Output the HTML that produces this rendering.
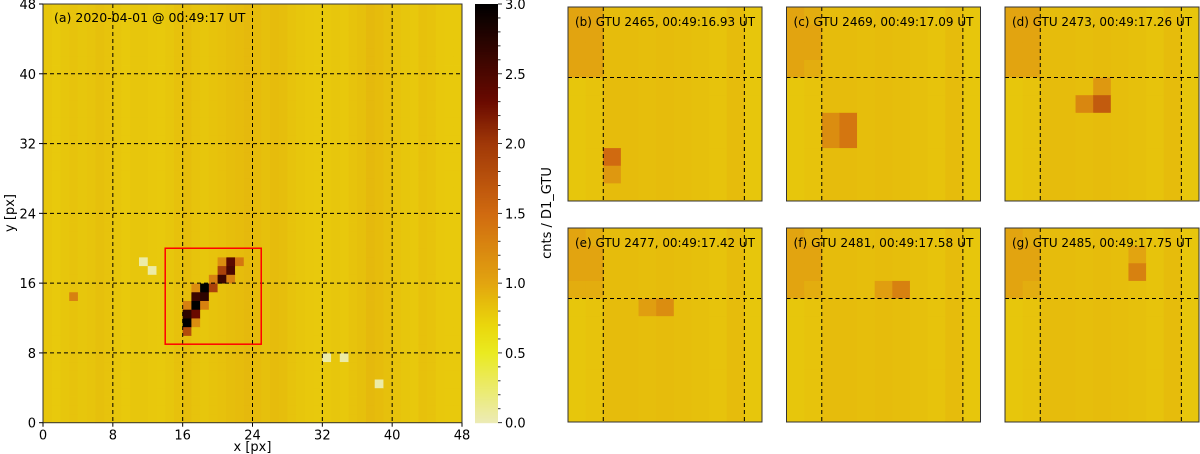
<!DOCTYPE html>
<html><head><meta charset="utf-8">
<style>
body{margin:0;background:#fff;}
svg{display:block;font-family:"DejaVu Sans","Liberation Sans",sans-serif;}
</style></head>
<body>
<svg id="fig" width="1200" height="454" viewBox="0 0 1200 454"></svg>
<script>
// ---- data ----
const colBase = [0.8,0.78,0.8,0.82,0.8,0.81,0.84,0.82,0.8,0.78,0.8,0.8,0.79,0.78,0.8,0.83,0.85,0.82,0.8,0.82,0.83,0.85,0.86,0.88,0.86,0.84,0.86,0.85,0.82,0.8,0.79,0.78,0.79,0.8,0.79,0.82,0.84,0.88,0.86,0.84,0.82,0.8,0.79,0.83,0.82,0.79,0.78,0.78];
// main overrides: [col,row,value]
const trackCells = [[22,18,1.4],[20,18,1.2],[21,18,2.4],[21,17,2.5],[20,17,1.9],[20,16,2.6],[21,16,1.3],[19,16,1.3],[18,15,3.0],[19,15,1.9],[17,15,1.2],[17,14,2.6],[18,14,2.7],[17,13,3.0],[18,13,1.3],[16,13,1.3],[16,12,2.7],[17,12,2.3],[16,11,3.0],[17,11,1.2],[16,10,1.8],[11,18,0.05],[12,17,0.05],[32,7,0.05],[34,7,0.05],[38,4,0.05],[3,14,1.3]];
const cbTicks = [0.0,0.5,1.0,1.5,2.0,2.5,3.0];
const axTicks = [0,8,16,24,32,40,48];
// small panels
const panelTitles = ["(b) GTU 2465, 00:49:16.93 UT","(c) GTU 2469, 00:49:17.09 UT","(d) GTU 2473, 00:49:17.26 UT","(e) GTU 2477, 00:49:17.42 UT","(f) GTU 2481, 00:49:17.58 UT","(g) GTU 2485, 00:49:17.75 UT"];
const panelBase = [0.8,0.82,0.86,0.86,0.85,0.86,0.85,0.84,0.82,0.86,0.8];
// [col,rowFromTop,value] in 11x11 window
const panelCells = [
 [[0,0,1.0],[1,0,1.0],[0,1,1.0],[1,1,1.0],[0,2,1.0],[1,2,1.0],[0,3,1.0],[1,3,1.0],[2,8,1.5],[2,9,1.1]],
 [[0,0,1.0],[1,0,0.95],[0,1,1.0],[1,1,1.0],[0,2,1.0],[1,2,1.0],[0,3,1.0],[1,3,0.95],[2,6,1.2],[3,6,1.4],[2,7,1.2],[3,7,1.4]],
 [[0,0,1.0],[1,0,1.0],[0,1,1.0],[1,1,1.0],[0,2,1.0],[1,2,1.0],[0,3,1.0],[1,3,1.0],[4,5,1.25],[5,5,1.65],[5,4,1.1]],
 [[0,0,1.0],[1,0,0.95],[0,1,1.0],[1,1,1.0],[0,2,1.0],[1,2,1.0],[0,3,0.95],[1,3,0.95],[4,4,1.05],[5,4,1.2]],
 [[0,0,1.0],[1,0,0.95],[0,1,1.0],[1,1,1.0],[0,2,1.0],[1,2,1.0],[0,3,1.0],[1,3,0.95],[5,3,1.05],[6,3,1.3]],
 [[0,0,1.0],[1,0,0.95],[0,1,1.0],[1,1,1.0],[0,2,1.0],[1,2,1.0],[0,3,1.0],[1,3,0.95],[7,2,1.3],[7,1,1.0]]
];
// ---- colormap ----
const stops=[[0,[236,235,181]],[0.5,[234,234,32]],[0.7,[234,214,12]],[0.85,[230,190,12]],[1.0,[226,164,16]],[1.5,[208,106,16]],[2.0,[160,56,8]],[2.3,[106,10,0]],[2.6,[60,6,0]],[3.0,[0,0,0]]];
function cmap(v){v=Math.max(0,Math.min(3,v));for(let i=1;i<stops.length;i++){if(v<=stops[i][0]){const a=stops[i-1],b=stops[i],t=(v-a[0])/(b[0]-a[0]);const c=a[1].map((x,k)=>Math.round(x+(b[1][k]-x)*t));return `rgb(${c})`;}}return 'rgb(0,0,0)';}
const NS='http://www.w3.org/2000/svg';const svg=document.getElementById('fig');
function el(t,a,p){const e=document.createElementNS(NS,t);for(const k in a)e.setAttribute(k,a[k]);(p||svg).appendChild(e);return e;}
// ---- main axes ----
const MX0=43,MX1=462,MY0=4,MY1=422.7;
const sx=v=>MX0+(MX1-MX0)*v/48, sy=v=>MY1-(MY1-MY0)*v/48;
const gMain=el('g',{});


const ov={};trackCells.forEach(c=>ov[c[0]+','+c[1]]=c[2]);
for(let r=0;r<48;r++)for(let c=0;c<48;c++){
  const v=ov[c+','+r]!==undefined?ov[c+','+r]:colBase[c];
  const x0=sx(c),x1=sx(c+1),y0=sy(r+1),y1=sy(r);
  const e=el('rect',{x:x0,y:y0,width:x1-x0+0.4,height:y1-y0+0.4,fill:cmap(v)},gMain);
  
  
}
axTicks.slice(1,-1).forEach(t=>{
  el('line',{x1:sx(t),x2:sx(t),y1:MY0,y2:MY1,stroke:'#000','stroke-width':1,'stroke-dasharray':'4,3'});
  el('line',{y1:sy(t),y2:sy(t),x1:MX0,x2:MX1,stroke:'#000','stroke-width':1,'stroke-dasharray':'4,3'});
});
const box=el('rect',{x:sx(14),y:sy(20),width:sx(25)-sx(14),height:sy(9)-sy(20),fill:'none',stroke:'#f00','stroke-width':1.5});


el('rect',{x:MX0,y:MY0,width:MX1-MX0,height:MY1-MY0,fill:'none',stroke:'#333','stroke-width':1});
axTicks.forEach(t=>{
  el('line',{x1:sx(t),x2:sx(t),y1:MY1,y2:MY1+4,stroke:'#000'});
  const tx=el('text',{x:sx(t),y:MY1+17,'text-anchor':'middle','font-size':13});tx.textContent=t;
  
  
  el('line',{x1:MX0-4,x2:MX0,y1:sy(t),y2:sy(t),stroke:'#000'});
  const ty=el('text',{x:MX0-7,y:sy(t)+5,'text-anchor':'end','font-size':13});ty.textContent=t;
  
  
});
let t=el('text',{x:(MX0+MX1)/2,y:451,'text-anchor':'middle','font-size':13});t.textContent='x [px]';

t=el('text',{x:14,y:213,'text-anchor':'middle','font-size':13,transform:'rotate(-90 14 213)'});t.textContent='y [px]';

t=el('text',{x:54,y:22,'font-size':12.5});t.textContent='(a) 2020-04-01 @ 00:49:17 UT';

// ---- colorbar ----
const CX0=475,CX1=498;const cy=v=>MY1-(MY1-MY0)*v/3;
const gCb=el('g',{});
for(let i=0;i<300;i++){const v=i/100;el('rect',{x:CX0,y:cy(v+0.01),width:CX1-CX0,height:cy(v)-cy(v+0.01)+0.5,fill:cmap(v)},gCb);}
for(let i=0;i<=30;i++){el('line',{x1:CX1,x2:CX1+(i%5===0?4:2.5),y1:cy(i/10),y2:cy(i/10),stroke:'#000','stroke-width':0.8});}
cbTicks.forEach(v=>{const e=el('text',{x:CX1+7,y:cy(v)+5,'font-size':13});e.textContent=v.toFixed(1);
 });
t=el('text',{x:551,y:213,'text-anchor':'middle','font-size':13,transform:'rotate(-90 551 213)'});t.textContent='cnts / D1_GTU';

// ---- small panels ----
const PX=[568,786.5,1005],PY=[7,228],PS=194;
panelTitles.forEach((title,p)=>{
  const X=PX[p%3],Y=PY[Math.floor(p/3)],cs=PS/11;
  const g=el('g',{});
  const o={};panelCells[p].forEach(c=>o[c[0]+','+c[1]]=c[2]);
  for(let r=0;r<11;r++)for(let c=0;c<11;c++){
    const v=o[c+','+r]!==undefined?o[c+','+r]:panelBase[c];
    const e=el('rect',{x:X+c*cs,y:Y+r*cs,width:cs+0.4,height:cs+0.4,fill:cmap(v)},g);
    
    
  }
  [2,10].forEach(c=>el('line',{x1:X+c*cs,x2:X+c*cs,y1:Y,y2:Y+PS,stroke:'#000','stroke-dasharray':'4,3'},g));
  el('line',{x1:X,x2:X+PS,y1:Y+4*cs,y2:Y+4*cs,stroke:'#000','stroke-dasharray':'4,3'},g);
  el('rect',{x:X,y:Y,width:PS,height:PS,fill:'none',stroke:'#333'},g);
  const tt=el('text',{x:X+7,y:Y+19,'font-size':12,textLength:180,lengthAdjust:'spacingAndGlyphs'},g);tt.textContent=title;
  
});
</script>
</body></html>
